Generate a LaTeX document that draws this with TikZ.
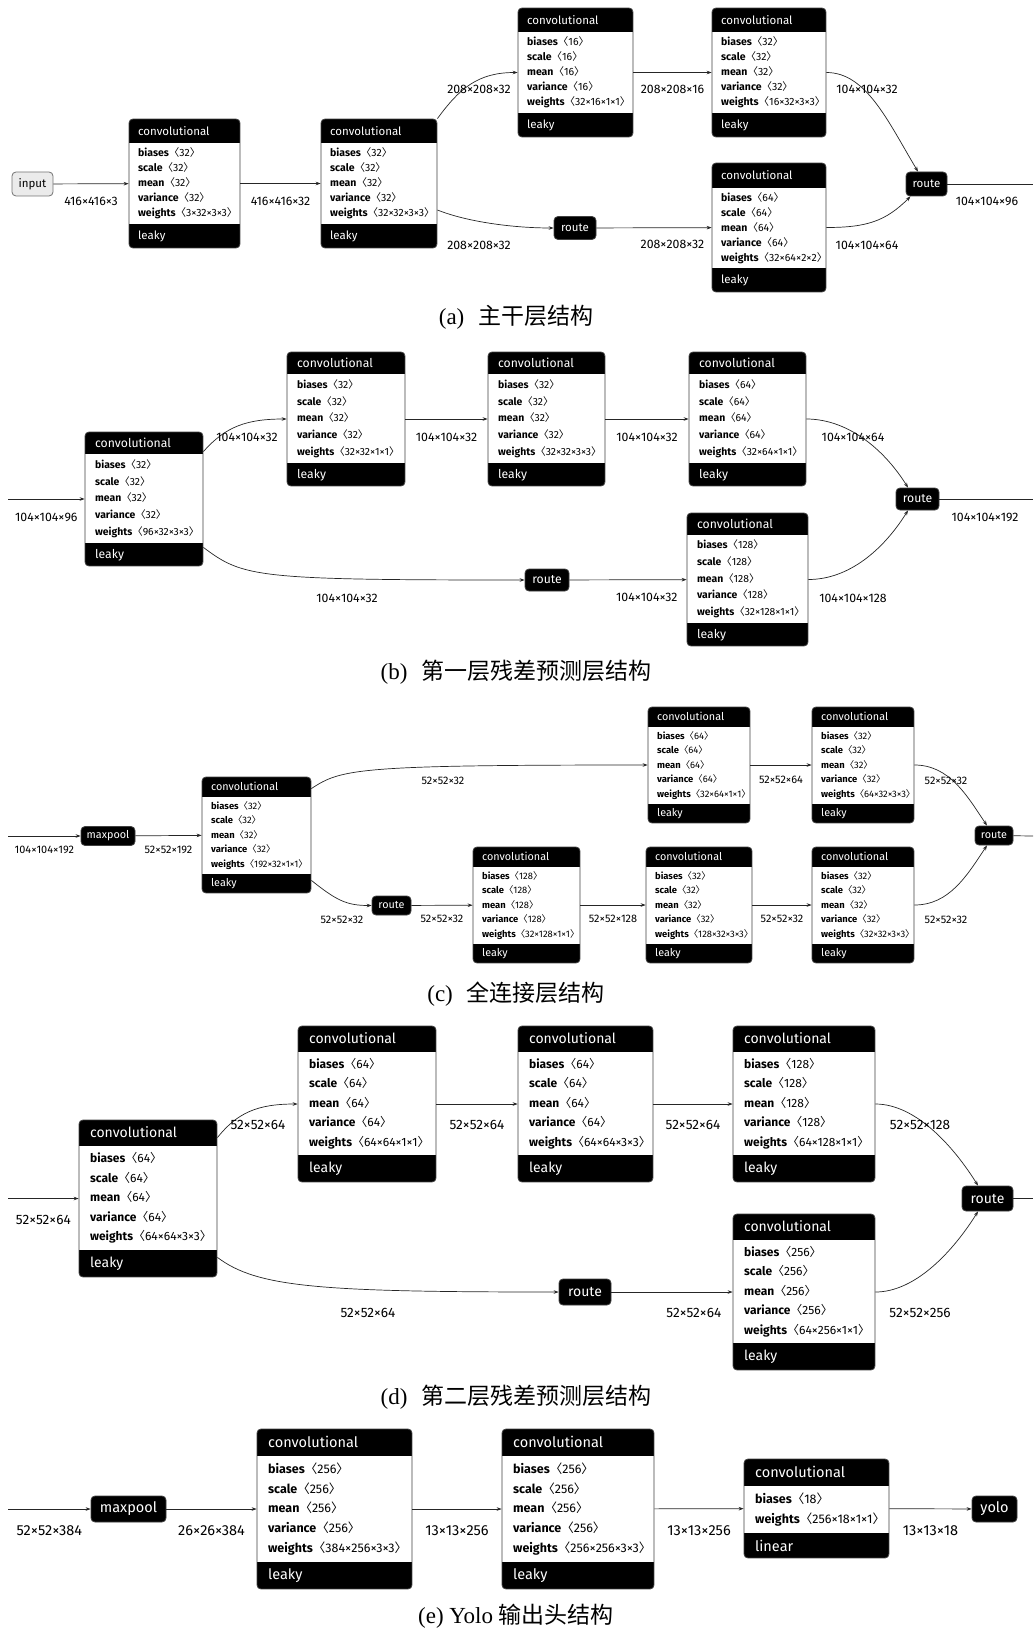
\documentclass[tikz,border=0pt]{standalone}
\usepackage{fontspec}
\setmainfont{Fira Sans}
\newfontfamily\cjk{Noto Sans CJK SC}
\newfontfamily\capfont{Liberation Serif}
\usetikzlibrary{arrows.meta,calc,fit}

% attribute row and the usual five rows of a convolutional block
\newcommand{\av}[2]{\textbf{#1}{\cjk 〈}#2{\cjk 〉}}
\newcommand{\stdrows}[2]{\av{biases}{#1}\\\av{scale}{#1}\\\av{mean}{#1}\\\av{variance}{#1}\\\av{weights}{#2}}
\newcommand{\hdrh}{24pt}
\newcommand{\ftrh}{24pt}
\newcommand{\padx}{6pt}
% name, x1, y1, x2, y2, rows, footer
\newcommand{\convnode}[7]{%
  \node[blk, fit={(#2,#3) (#4,#5)}, path picture={
      \fill[black, sharp corners] (path picture bounding box.north west) rectangle ([yshift=-\hdrh]path picture bounding box.north east);
      \fill[black, sharp corners] ([yshift=\ftrh]path picture bounding box.south west) rectangle (path picture bounding box.south east);
    }] (#1) {};
  \node[hd, text=white, anchor=west] at ([xshift=\padx, yshift=-0.5*\hdrh]#1.north west) {convolutional};
  \node[rw, anchor=west, align=left] at ([xshift=\padx, yshift=0.5*\ftrh-0.5*\hdrh]#1.west) {#6};
  \node[hd, text=white, anchor=west] at ([xshift=\padx, yshift=0.5*\ftrh]#1.south west) {#7};
}

\begin{document}
\begin{tikzpicture}[x=1pt, y=-1pt,
    blk/.style={draw=black!75, line width=0.8pt, rounded corners=4pt, fill=white, inner sep=0pt},
    op/.style={draw=black!75, line width=0.8pt, rounded corners=4pt, fill=black, text=white, inner sep=0pt},
    inp/.style={draw=black!55, line width=0.8pt, rounded corners=4pt, fill=black!8, inner sep=0pt},
    link/.style={draw=black!85, line width=0.7pt, -{Stealth[length=5pt,width=3.6pt]}},
    wire/.style={draw=black!85, line width=0.7pt},
    captxt/.style={font={\capfont\fontsize{23}{26}\selectfont}}
  ]
  \useasboundingbox (0,0) rectangle (1033,1629);

  % (a)
  \begin{scope}[hd/.style={font=\fontsize{11.5}{13}\selectfont},
      rw/.style={font=\fontsize{10.5}{15}\selectfont},
      lbl/.style={font=\fontsize{12.3}{14}\selectfont}]
    \renewcommand{\hdrh}{24pt}\renewcommand{\ftrh}{24pt}\renewcommand{\padx}{6pt}
    \node[inp, minimum width=41pt, minimum height=24pt, hd] (in) at (32.5,184) {input};
    \convnode{ca1}{129}{119}{240}{248}{\stdrows{32}{3×32×3×3}}{leaky}
    \convnode{ca2}{321}{119}{437}{248}{\stdrows{32}{32×32×3×3}}{leaky}
    \convnode{ca3}{518}{8}{633}{137}{\stdrows{16}{32×16×1×1}}{leaky}
    \convnode{ca4}{712}{8}{826}{137}{\stdrows{32}{16×32×3×3}}{leaky}
    \renewcommand{\hdrh}{25pt}
    \convnode{ca5}{712}{163}{826}{292}{\stdrows{64}{32×64×2×2}}{leaky}
    \node[op, hd, minimum width=42pt, minimum height=23pt] (ra1) at (575,228) {route};
    \node[op, hd, minimum width=41pt, minimum height=24pt] (ra2) at (926.5,184) {route};
    \coordinate (oa) at (1033,184);

    \draw[link] (in) -- (ca1) node[lbl, midway, yshift=-17.5pt] {416×416×3};
    \draw[link] (ca1) -- (ca2) node[lbl, midway, yshift=-17.5pt] {416×416×32};
    \draw[link] (ca2.north east) .. controls +(22,-30) and +(-40,0) .. (ca3.west) node[lbl] at (479,89) {208×208×32};
    \draw[link] ($(ca2.east)+(0,26.5)$) .. controls +(30,12) and +(-40,0) .. (ra1.west) node[lbl] at (479,245) {208×208×32};
    \draw[link] (ca3) -- (ca4) node[lbl, midway, yshift=-17pt] {208×208×16};
    \draw[link] (ra1) -- (ca5) node[lbl, pos=0.66, yshift=-17pt] {208×208×32};
    \draw[link] (ca4.east) .. controls +(40,0) and +(-30,-50) .. ($(ra2.north)+(-8.5,0)$) node[lbl] at (867,89) {104×104×32};
    \draw[link] (ca5.east) .. controls +(40,0) and +(-25,25) .. ($(ra2.south)+(-16,0)$) node[lbl] at (867,245) {104×104×64};
    \draw[wire] (ra2) -- (oa) node[lbl] at (987,201) {104×104×96};
  \end{scope}
  \node[captxt] (capa) at (516,317) {(a)\hspace{0.6em}{\cjk 主干层结构}};

  % (b)
  \begin{scope}[hd/.style={font=\fontsize{12.2}{14}\selectfont},
      rw/.style={font=\fontsize{10.4}{16.7}\selectfont},
      lbl/.style={font=\fontsize{12.3}{14}\selectfont}]
    \renewcommand{\hdrh}{22pt}\renewcommand{\ftrh}{23pt}\renewcommand{\padx}{7pt}
    \convnode{cb1}{85}{432}{203}{566}{\stdrows{32}{96×32×3×3}}{leaky}
    \convnode{cb2}{287}{352}{405}{486}{\stdrows{32}{32×32×1×1}}{leaky}
    \convnode{cb3}{488}{352}{605}{486}{\stdrows{32}{32×32×3×3}}{leaky}
    \convnode{cb4}{689}{352}{806}{486}{\stdrows{64}{32×64×1×1}}{leaky}
    \convnode{cb5}{687}{513}{808}{646}{\stdrows{128}{32×128×1×1}}{leaky}
    \node[op, hd, minimum width=44pt, minimum height=22pt] (rb1) at (547,580) {route};
    \node[op, hd, minimum width=43pt, minimum height=22pt] (rb2) at (917.5,499) {route};
    \coordinate (ib) at (8,499);
    \coordinate (ob) at (1033,499);

    \draw[link] (ib) -- (cb1) node[lbl, midway, yshift=-18pt] {104×104×96};
    \draw[link] ($(cb1.north east)+(0,20)$) .. controls +(22,-25) and +(-40,0) .. (cb2.west) node[lbl] at (247,437) {104×104×32};
    \draw[link] (cb2) -- (cb3) node[lbl, midway, yshift=-18pt] {104×104×32};
    \draw[link] (cb3) -- (cb4) node[lbl, midway, yshift=-18pt] {104×104×32};
    \draw[link] (cb4.east) .. controls +(40,0) and +(-25,-40) .. ($(rb2.north)+(-9.5,0)$) node[lbl] at (853,437) {104×104×64};
    \draw[link] ($(cb1.south east)+(0,-19)$) .. controls +(40,30) and +(-270,0) .. (rb1.west) node[lbl] at (347,598) {104×104×32};
    \draw[link] (rb1) -- (cb5) node[lbl, pos=0.66, yshift=-18pt] {104×104×32};
    \draw[link] (cb5.east) .. controls +(40,0) and +(-25,40) .. ($(rb2.south)+(-9.5,0)$) node[lbl] at (853,598) {104×104×128};
    \draw[wire] (rb2) -- (ob) node[lbl] at (985,517) {104×104×192};
  \end{scope}
  \node[captxt] (capb) at (516,672) {(b)\hspace{0.6em}{\cjk 第一层残差预测层结构}};

  % (c)
  \begin{scope}[hd/.style={font=\fontsize{10.8}{12}\selectfont},
      rw/.style={font=\fontsize{9.4}{14.5}\selectfont},
      lbl/.style={font=\fontsize{10.9}{12}\selectfont}]
    \renewcommand{\hdrh}{20pt}\renewcommand{\ftrh}{19pt}\renewcommand{\padx}{6pt}
    \node[op, hd, minimum width=54pt, minimum height=19pt] (mpc) at (108,836) {maxpool};
    \convnode{cc1}{202}{777}{311}{893}{\stdrows{32}{192×32×1×1}}{leaky}
    \convnode{cc2}{648}{707}{750}{823}{\stdrows{64}{32×64×1×1}}{leaky}
    \convnode{cc3}{812}{707}{914}{823}{\stdrows{32}{64×32×3×3}}{leaky}
    \convnode{cc4}{473}{847}{580}{963}{\stdrows{128}{32×128×1×1}}{leaky}
    \convnode{cc5}{646}{847}{752}{963}{\stdrows{32}{128×32×3×3}}{leaky}
    \convnode{cc6}{812}{847}{914}{963}{\stdrows{32}{32×32×3×3}}{leaky}
    \node[op, hd, minimum width=39pt, minimum height=19pt] (rc1) at (391.5,905.5) {route};
    \node[op, hd, minimum width=38pt, minimum height=19pt] (rc2) at (994,835.5) {route};
    \coordinate (ic) at (8,836);
    \coordinate (oc) at (1033,836);

    \draw[link] (ic) -- (mpc) node[lbl, midway, yshift=-14pt] {104×104×192};
    \draw[link] (mpc) -- (cc1) node[lbl, midway, yshift=-14pt] {52×52×192};
    \draw[link] ($(cc1.north east)+(0,12)$) .. controls +(30,-20) and +(-290,0) .. (cc2.west) node[lbl] at (443,781) {52×52×32};
    \draw[link] ($(cc1.south east)+(0,-13)$) .. controls +(25,20) and +(-25,0) .. (rc1.west) node[lbl] at (342,920) {52×52×32};
    \draw[link] (rc1) -- (cc4) node[lbl, midway, yshift=-14pt] {52×52×32};
    \draw[link] (cc4) -- (cc5) node[lbl, midway, yshift=-14pt] {52×52×128};
    \draw[link] (cc5) -- (cc6) node[lbl, midway, yshift=-14pt] {52×52×32};
    \draw[link] (cc2) -- (cc3) node[lbl, midway, yshift=-15pt] {52×52×64};
    \draw[link] (cc3.east) .. controls +(35,0) and +(-20,-30) .. ($(rc2.north)+(-7,0)$) node[lbl] at (946,781) {52×52×32};
    \draw[link] (cc6.east) .. controls +(35,0) and +(-20,30) .. ($(rc2.south)+(-7,0)$) node[lbl] at (946,920) {52×52×32};
    \draw[wire] (rc2) -- (oc);
  \end{scope}
  \node[captxt] (capc) at (516,994) {(c)\hspace{0.6em}{\cjk 全连接层结构}};

  % (d)
  \begin{scope}[hd/.style={font=\fontsize{14}{16}\selectfont},
      rw/.style={font=\fontsize{12}{19.5}\selectfont},
      lbl/.style={font=\fontsize{13.6}{15}\selectfont}]
    \renewcommand{\hdrh}{26pt}\renewcommand{\ftrh}{27pt}\renewcommand{\padx}{8pt}
    \convnode{cd1}{79}{1120}{217}{1277}{\stdrows{64}{64×64×3×3}}{leaky}
    \convnode{cd2}{298}{1026}{436}{1182}{\stdrows{64}{64×64×1×1}}{leaky}
    \convnode{cd3}{518}{1026}{653}{1182}{\stdrows{64}{64×64×3×3}}{leaky}
    \convnode{cd4}{733}{1026}{875}{1182}{\stdrows{128}{64×128×1×1}}{leaky}
    \convnode{cd5}{733}{1214}{875}{1370}{\stdrows{256}{64×256×1×1}}{leaky}
    \node[op, hd, minimum width=52pt, minimum height=26pt] (rd1) at (585,1292) {route};
    \node[op, hd, minimum width=51pt, minimum height=25pt] (rd2) at (987.5,1198.5) {route};
    \coordinate (id) at (8,1198.5);
    \coordinate (od) at (1033,1198.5);

    \draw[link] (id) -- (cd1) node[lbl, midway, yshift=-21pt] {52×52×64};
    \draw[link] ($(cd1.north east)+(0,18)$) .. controls +(20,-25) and +(-40,0) .. (cd2.west) node[lbl] at (258,1125) {52×52×64};
    \draw[link] (cd2) -- (cd3) node[lbl, midway, yshift=-21pt] {52×52×64};
    \draw[link] (cd3) -- (cd4) node[lbl, midway, yshift=-21pt] {52×52×64};
    \draw[link] (cd4.east) .. controls +(40,0) and +(-25,-40) .. ($(rd2.north)+(-9.5,0)$) node[lbl] at (920,1125) {52×52×128};
    \draw[link] ($(cd1.south east)+(0,-20)$) .. controls +(40,30) and +(-240,0) .. (rd1.west) node[lbl] at (368,1313) {52×52×64};
    \draw[link] (rd1) -- (cd5) node[lbl, pos=0.68, yshift=-21pt] {52×52×64};
    \draw[link] (cd5.east) .. controls +(40,0) and +(-25,40) .. ($(rd2.south)+(-9.5,0)$) node[lbl] at (920,1313) {52×52×256};
    \draw[wire] (rd2) -- (od);
  \end{scope}
  \node[captxt] (capd) at (516,1397) {(d)\hspace{0.6em}{\cjk 第二层残差预测层结构}};

  % (e)
  \begin{scope}[hd/.style={font=\fontsize{14.5}{16}\selectfont},
      rw/.style={font=\fontsize{12.5}{19.7}\selectfont},
      lbl/.style={font=\fontsize{14.5}{16}\selectfont}]
    \renewcommand{\hdrh}{27pt}\renewcommand{\ftrh}{27pt}\renewcommand{\padx}{8pt}
    \node[op, hd, minimum width=75pt, minimum height=26pt] (mpe) at (128.5,1509) {maxpool};
    \convnode{ce1}{257}{1429}{412}{1589}{\stdrows{256}{384×256×3×3}}{leaky}
    \convnode{ce2}{502}{1429}{654}{1589}{\stdrows{256}{256×256×3×3}}{leaky}
    \renewcommand{\ftrh}{25pt}
    \convnode{ce3}{744}{1459}{889}{1558}{\av{biases}{18}\\\av{weights}{256×18×1×1}}{linear}
    \node[op, hd, minimum width=45pt, minimum height=26pt] (yolo) at (994.5,1509) {yolo};
    \coordinate (ie) at (8,1509);

    \draw[link] (ie) -- (mpe) node[lbl, midway, yshift=-22pt] {52×52×384};
    \draw[link] (mpe) -- (ce1) node[lbl, midway, yshift=-22pt] {26×26×384};
    \draw[link] (ce1) -- (ce2) node[lbl, midway, yshift=-22pt] {13×13×256};
    \draw[link] (ce2) -- (ce3) node[lbl, midway, yshift=-22pt] {13×13×256};
    \draw[link] (ce3) -- (yolo) node[lbl, midway, yshift=-22pt] {13×13×18};
  \end{scope}
  \node[captxt] (cape) at (516,1616) {(e) Yolo {\cjk 输出头结构}};
\end{tikzpicture}
\end{document}
